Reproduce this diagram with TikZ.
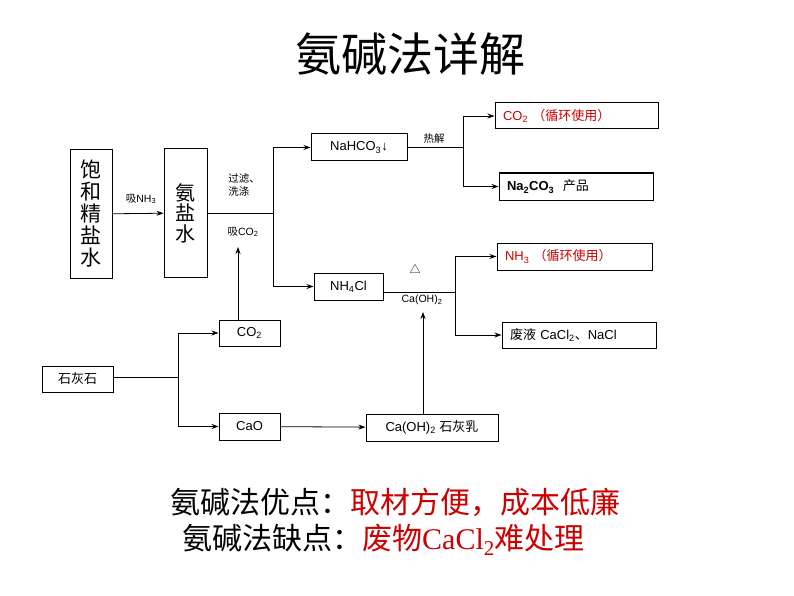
\documentclass[tikz,border=0pt]{standalone}
\usepackage{fontspec}
\setmainfont{Liberation Sans}
\newfontfamily\zhfont{Noto Sans CJK SC}
\newfontfamily\serifen{Liberation Serif}
\newcommand{\zh}[1]{{\zhfont #1}}
\usepackage{xcolor}
\usepackage{tikz}
\usetikzlibrary{arrows.meta}
\definecolor{mred}{RGB}{204,0,0}

\begin{document}
\begin{tikzpicture}[
    x=1pt, y=-1pt,
    box/.style={rectangle, draw, line width=1pt, inner sep=0pt, font=\fontsize{13}{15}\selectfont},
    wbox/.style={box, align=left, inner xsep=8pt},
    flow/.style={-{Stealth[length=7pt, width=5pt]}, line width=0.8pt},
    link/.style={line width=0.8pt},
    lbl/.style={inner sep=0pt, font=\fontsize{10.5}{13}\selectfont}
]
\useasboundingbox (0,0) rectangle (794,596);

% title
\node[font=\zhfont\fontsize{46}{50}\selectfont] (title) at (410,54) {氨碱法详解};

% left column
\node[box, minimum width=42pt, minimum height=128pt, align=center,
      font=\zhfont\fontsize{21}{22}\selectfont] (saltwater) at (91,214) {饱\\和\\精\\盐\\水};
\node[box, minimum width=43pt, minimum height=128pt, align=center,
      font=\zhfont\fontsize{20}{20.5}\selectfont] (ammonia) at (185.5,213) {氨\\盐\\水};

% products of carbonation
\node[box, minimum width=96pt, minimum height=27pt] (nahco) at (359,147.5) {NaHCO\textsubscript{3}↓};
\node[box, minimum width=69pt, minimum height=27pt] (nh4cl) at (348.5,286.5) {NH\textsubscript{4}Cl};

% right column
\node[wbox, text width=147pt, minimum height=26pt, text=mred] (co2r) at (576.5,116)
    {CO\textsubscript{2} \zh{（循环使用）}};
\node[wbox, text width=138pt, minimum height=27pt] (na2co3) at (576,186.5)
    {\textbf{Na\textsubscript{2}CO\textsubscript{3}}\ \ \zh{产品}};
\node[wbox, text width=139pt, minimum height=27pt, text=mred] (nh3) at (574.5,256.5)
    {NH\textsubscript{3} \zh{（循环使用）}};
\node[wbox, text width=138pt, minimum height=26pt] (waste) at (579,335)
    {\zh{废液} CaCl\textsubscript{2}\zh{、}NaCl};

% lime branch
\node[box, minimum width=71pt, minimum height=26pt, font=\zhfont\fontsize{13}{15}\selectfont] (limestone) at (77.5,379) {石灰石};
\node[box, minimum width=61pt, minimum height=26pt] (co2) at (249.5,333) {CO\textsubscript{2}};
\node[box, minimum width=61pt, minimum height=27pt] (cao) at (249.5,426.5) {CaO};
\node[box, minimum width=132pt, minimum height=27pt] (limemilk) at (432,427.5) {Ca(OH)\textsubscript{2} \zh{石灰乳}};

% junctions
\coordinate (split1) at (273,213);
\coordinate (split2) at (463,147.5);
\coordinate (split3) at (455,292);
\coordinate (split4) at (178,377);
\coordinate (co2in) at (238,247);
\coordinate (caohin) at (423,312);

% connectors
\draw[flow] (saltwater) -- (ammonia);
\draw[link] (ammonia.east) -- (split1);
\draw[flow] (split1) |- (nahco.west);
\draw[flow] (split1) |- (nh4cl.west);
\draw[link] (nahco.east) -- (split2);
\draw[flow] (split2) |- (co2r.west);
\draw[flow] (split2) |- (na2co3.west);
\draw[link] (nh4cl.east |- split3) -- (split3);
\draw[flow] (split3) |- (nh3.west);
\draw[flow] (split3) |- (waste.west);
\draw[link] (limestone.east |- split4) -- (split4);
\draw[flow] (split4) |- (co2.west);
\draw[flow] (split4) |- (cao.west);
\draw[flow] (cao) -- (limemilk);
\draw[flow] (co2.north -| co2in) -- (co2in);
\draw[flow] (limemilk.north -| caohin) -- (caohin);

% labels on the arrows
\node[lbl] (absnh3) at (141,199) {\zh{吸}NH\textsubscript{3}};
\node[lbl, align=left] (filter) at (244,185) {\zh{过滤、}\\\zh{洗涤}};
\node[lbl] (absco2) at (243,232) {\zh{吸}CO\textsubscript{2}};
\node[lbl] (heat) at (434,139) {\zh{热解}};
\node[lbl, font=\zhfont\fontsize{11}{13}\selectfont] (delta) at (415,269) {△};
\node[lbl] (caoh) at (422,300) {Ca(OH)\textsubscript{2}};

% summary
\node[anchor=west, inner sep=0pt, font=\zhfont\fontsize{30}{34}\selectfont] (pros) at (170,502)
    {氨碱法优点：\textcolor{mred}{取材方便，成本低廉}};
\node[anchor=west, inner sep=0pt, font=\zhfont\fontsize{30}{34}\selectfont] (cons) at (182,540)
    {氨碱法缺点：\textcolor{mred}{废物{\serifen CaCl\textsubscript{2}}难处理}};
\end{tikzpicture}
\end{document}
